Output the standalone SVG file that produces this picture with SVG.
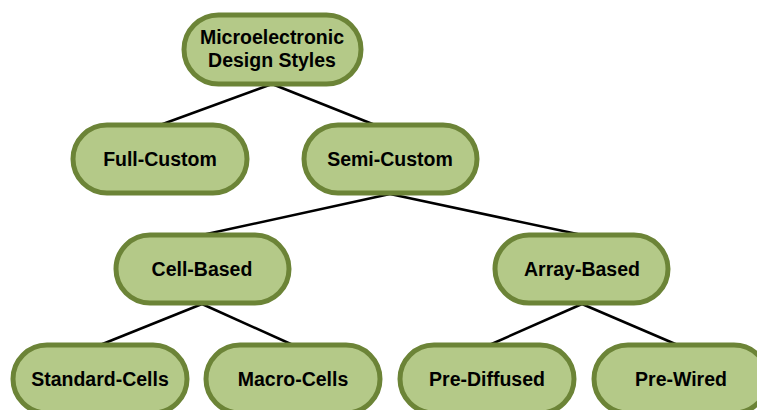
<svg xmlns="http://www.w3.org/2000/svg" width="757" height="410" viewBox="0 0 757 410">
<style>
.n rect{fill:#b4c988;stroke:#6c8437;stroke-width:5}
.n text{font-family:"Liberation Sans",Arial,sans-serif;font-weight:bold;font-size:19.5px;fill:#000;text-anchor:middle}
.c line{stroke:#000;stroke-width:2.5}
</style>
<rect width="757" height="410" fill="#fff"/>
<g id="connectors" class="c">
<line x1="272" y1="84" x2="160" y2="125"/>
<line x1="272" y1="84" x2="375" y2="125"/>
<line x1="390" y1="194" x2="202" y2="235"/>
<line x1="390" y1="194" x2="582" y2="235"/>
<line x1="202" y1="304" x2="100" y2="345"/>
<line x1="202" y1="304" x2="293" y2="345"/>
<line x1="582" y1="304" x2="487" y2="346"/>
<line x1="582" y1="304" x2="680" y2="346"/>
</g>
<g id="n-root" class="n"><rect x="184" y="15" width="177" height="69" rx="34.5"/><text x="272" y="43.5">Microelectronic</text><text x="272" y="66.5">Design Styles</text></g>
<g id="n-full" class="n"><rect x="73" y="125" width="174" height="68" rx="34"/><text x="160" y="165.5">Full-Custom</text></g>
<g id="n-semi" class="n"><rect x="304" y="125" width="173" height="68" rx="34"/><text x="390" y="165.5">Semi-Custom</text></g>
<g id="n-cell" class="n"><rect x="116" y="235" width="173" height="68" rx="34"/><text x="202" y="275.5">Cell-Based</text></g>
<g id="n-array" class="n"><rect x="495" y="235" width="173" height="68" rx="34"/><text x="582" y="275.5">Array-Based</text></g>
<g id="n-std" class="n"><rect x="13" y="345" width="174" height="68" rx="34"/><text x="100" y="385.5">Standard-Cells</text></g>
<g id="n-macro" class="n"><rect x="206" y="345" width="174" height="68" rx="34"/><text x="293" y="385.5">Macro-Cells</text></g>
<g id="n-diff" class="n"><rect x="400" y="345" width="174" height="68" rx="34"/><text x="487" y="385.5">Pre-Diffused</text></g>
<g id="n-wired" class="n"><rect x="594" y="345" width="174" height="68" rx="34"/><text x="681" y="385.5">Pre-Wired</text></g>
</svg>
